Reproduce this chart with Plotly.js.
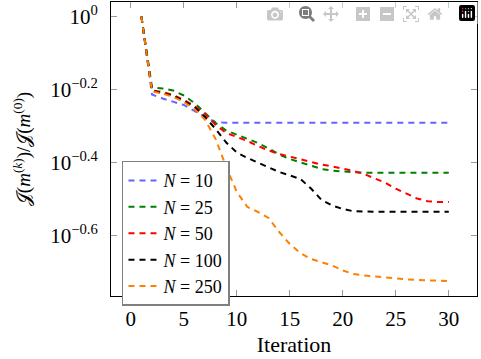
<!DOCTYPE html>
<html>
<head>
<meta charset="utf-8">
<script src="https://cdn.plot.ly/plotly-3.0.1.min.js"></script>
</head>
<body style="margin:0;background:#fff">
<div id="chart" style="width:481px;height:359px"></div>
<pre id="log" style="margin:0;height:0;overflow:hidden"></pre>
<script>
const iterations = [1,2,3,4,5,6,7,8,9,10,11,12,13,14,15,16,17,18,19,20,21,22,23,24,25,26,27,28,29,30];
const seriesNames = ['<i>N</i> = 10','<i>N</i> = 25','<i>N</i> = 50','<i>N</i> = 100','<i>N</i> = 250'];
const n10  = [1,0.6117,0.5965,0.5853,0.5725,0.5512,0.5307,0.5126,0.5119,0.5119,0.5119,0.5119,0.5119,0.5119,0.5119,0.5119,0.5119,0.5119,0.5119,0.5119,0.5119,0.5119,0.5119,0.5119,0.5119,0.5119,0.5119,0.5119,0.5119,0.5119];
const n25  = [1,0.6394,0.6354,0.6274,0.6079,0.5798,0.5443,0.5109,0.4873,0.4751,0.4633,0.4503,0.4349,0.4187,0.4070,0.3981,0.3894,0.3821,0.3780,0.3757,0.3742,0.3733,0.3733,0.3733,0.3733,0.3733,0.3733,0.3733,0.3733,0.3733];
const n50  = [1,0.6274,0.6215,0.6098,0.5908,0.5689,0.5408,0.5045,0.4796,0.4677,0.4560,0.4418,0.4295,0.4201,0.4127,0.4065,0.3994,0.3929,0.3882,0.3831,0.3773,0.3702,0.3599,0.3502,0.3374,0.3263,0.3171,0.3118,0.3102,0.3102];
const n100 = [1,0.6255,0.6176,0.6060,0.5871,0.5653,0.5307,0.4919,0.4517,0.4241,0.4096,0.3976,0.3862,0.3749,0.3668,0.3587,0.3378,0.3141,0.3034,0.2968,0.2925,0.2918,0.2918,0.2918,0.2918,0.2918,0.2918,0.2918,0.2918,0.2918];
const n250 = [1,0.6235,0.6156,0.6021,0.5834,0.5582,0.5217,0.4618,0.3869,0.3304,0.3005,0.2912,0.2804,0.2566,0.2379,0.2247,0.2164,0.2123,0.2077,0.2012,0.1968,0.1950,0.1937,0.1925,0.1913,0.1903,0.1895,0.1891,0.1888,0.1883];
const xTickVals = [0,5,10,15,20,25,30];
const yTickVals = [1,0.630957,0.398107,0.251189];
const yTickText = ['10<sup>0</sup>','10<sup>−0.2</sup>','10<sup>−0.4</sup>','10<sup>−0.6</sup>'];

const allSeries = [n10,n25,n50,n100,n250];
const colors = ['#6464ff','#008000','#ff0000','#000000','#ff8000'];
const FONT = 'Liberation Serif';

const traces = allSeries.map((ys,i)=>({
  x: iterations, y: ys, type:'scatter', mode:'lines', name: seriesNames[i],
  line:{color:colors[i], width:2, dash:'6px,5px'}
}));

const layout = {
  width:481, height:359,
  margin:{l:111, r:4, t:2, b:63},
  paper_bgcolor:'#fff', plot_bgcolor:'#fff',
  font:{family:FONT, size:20, color:'#000'},
  showlegend:true,
  legend:{x:0.03, y:0.46, xanchor:'left', yanchor:'top', bgcolor:'#fff',
    bordercolor:'#808080', borderwidth:1.5, font:{size:18}, itemwidth:30, tracegroupgap:0},
  xaxis:{range:[-1.87,32.66], tickmode:'array', tickvals:xTickVals, ticks:'inside', ticklen:6,
    tickcolor:'#999', showline:true, linecolor:'#000', linewidth:1, mirror:'ticks', showgrid:false,
    zeroline:false, tickfont:{size:21}, ticklabelstandoff:4,
    title:{text:'Iteration', font:{size:22}, standoff:6}},
  yaxis:{type:'log', range:[-0.7663,0.0403], tickmode:'array', tickvals:yTickVals, ticktext:yTickText,
    ticks:'inside', ticklen:6, tickcolor:'#999', showline:true, linecolor:'#000', linewidth:1,
    mirror:'ticks', showgrid:false, zeroline:false, tickfont:{size:21}, ticklabelstandoff:8,
    title:{text:'𝒥(<i>m</i><sup>(<i>k</i>)</sup>)/𝒥(<i>m</i><sup>(0)</sup>)', font:{size:19}, standoff:14}}
};
Plotly.newPlot('chart', traces, layout);
</script>
</body>
</html>
